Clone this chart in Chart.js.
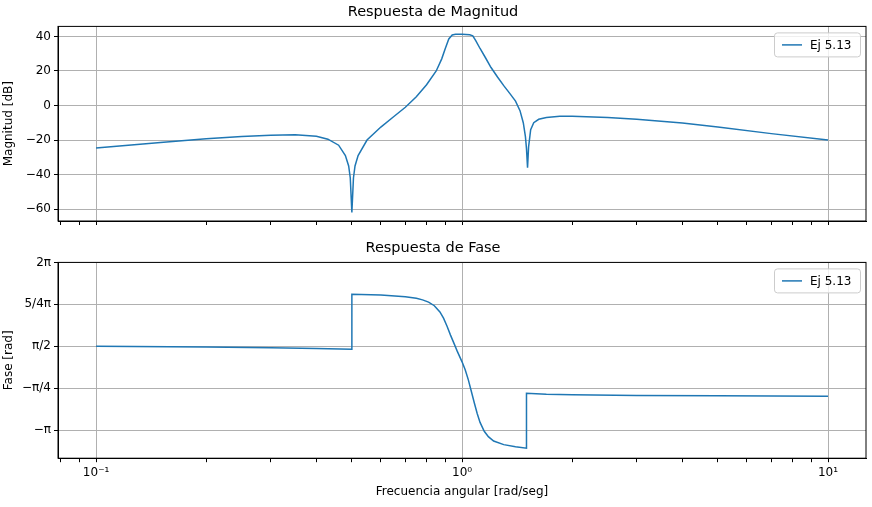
<!DOCTYPE html>
<html><head><meta charset="utf-8">
<script src="https://cdn.jsdelivr.net/npm/chart.js@4"></script>
<style>
body{margin:0;background:#fff;width:872px;height:507px;position:relative;overflow:hidden}
.box{position:absolute;left:0;width:872px}
</style></head><body>
<div class="box" style="top:0;height:232px"><canvas id="mag"></canvas></div>
<div class="box" style="top:232px;height:275px"><canvas id="phase"></canvas></div>
<script>
// --- Data ---
const magFreq = [0.1,0.15,0.2,0.25,0.3,0.35,0.4,0.43,0.46,0.48,0.49,0.495,0.5,0.505,0.51,0.52,0.55,0.6,0.65,0.7,0.75,0.8,0.85,0.88,0.9,0.92,0.94,0.96,1.0,1.05,1.07,1.09,1.12,1.16,1.2,1.25,1.3,1.35,1.4,1.44,1.47,1.49,1.5,1.51,1.52,1.54,1.57,1.62,1.7,1.85,2,2.5,3,4,5,7,10];
const magDb = [-24.6,-21.5,-19.3,-18,-17.2,-17,-17.8,-19.5,-23,-29,-35,-42,-62,-42,-35,-29,-20,-12.5,-6.5,-1,5,12,20,27,33,38.5,40.8,41.2,41.2,41,40.3,37.5,33,27.5,22,16.5,11.5,7,2.5,-3,-10,-18,-25,-36,-24,-14,-10,-8,-7,-6.3,-6.2,-7,-8,-10.2,-12.4,-16.3,-20];
const phaseFreq = [0.1,0.2,0.3,0.4,0.5,0.5,0.6,0.7,0.75,0.78,0.81,0.84,0.87,0.89,0.91,0.93,0.95,0.97,1.0,1.02,1.04,1.06,1.08,1.1,1.12,1.15,1.18,1.22,1.3,1.4,1.5,1.5,1.7,2,3,5,10];
const phaseRad = [1.58,1.53,1.49,1.45,1.40,4.50,4.45,4.36,4.27,4.18,4.05,3.85,3.5,3.15,2.7,2.2,1.75,1.3,0.7,0.25,-0.3,-0.95,-1.6,-2.2,-2.7,-3.2,-3.5,-3.75,-3.95,-4.07,-4.15,-1.07,-1.12,-1.15,-1.19,-1.21,-1.23];
const magTicks = [-60,-40,-20,0,20,40];
const phaseTicks = [-Math.PI, -Math.PI/4, Math.PI/2, 5*Math.PI/4, 2*Math.PI];
const phaseLabels = ['−π','−π/4','π/2','5/4π','2π'];
const xMajor = [0.1,1,10];
const xLabels = ['10⁻¹','10⁰','10¹'];
const seriesName = 'Ej 5.13';

const FONT = 'DejaVu Sans';
const BLUE = '#1f77b4';
Chart.defaults.font.family = FONT;
Chart.defaults.color = '#000';

// minor ticks for log axis
const xAll = [];
for (let d = 0.01; d <= 10; d *= 10) for (let k = 1; k <= 9; k++) {
  const v = +(d * k).toPrecision(3);
  if (v >= 0.078 && v <= 12.7) xAll.push(v);
}

// legend box inside plot, top right
const innerLegend = {
  id: 'innerLegend',
  afterDraw(chart) {
    const {ctx, chartArea: a} = chart;
    ctx.save();
    ctx.font = '12px ' + FONT;
    const w = 86, h = 24, x = a.right - w - 6, y = a.top + 6;
    ctx.fillStyle = 'rgba(255,255,255,0.8)';
    ctx.strokeStyle = '#ccc';
    ctx.lineWidth = 1;
    ctx.beginPath(); ctx.roundRect(x + 0.5, y + 0.5, w, h, 3); ctx.fill(); ctx.stroke();
    ctx.strokeStyle = BLUE; ctx.lineWidth = 1.5;
    ctx.beginPath(); ctx.moveTo(x + 8, y + 12.5); ctx.lineTo(x + 28, y + 12.5); ctx.stroke();
    ctx.fillStyle = '#000'; ctx.textBaseline = 'middle';
    ctx.fillText(seriesName, x + 36, y + 13);
    ctx.restore();
  }
};

function makeChart(id, xs, ys, opts) {
  return new Chart(document.getElementById(id), {
    type: 'line',
    data: { datasets: [{ label: seriesName, data: xs.map((x, i) => ({x, y: ys[i]})), borderColor: BLUE, borderWidth: 1.5, pointRadius: 0, tension: 0 }] },
    options: {
      responsive: true, maintainAspectRatio: false, animation: false,
      layout: { padding: { right: 6, top: 0, left: 0, bottom: opts.bottomPad } },
      plugins: {
        legend: { display: false }, tooltip: { enabled: false },
        title: { display: true, text: opts.title, font: { size: 14.5, weight: 'normal' }, padding: { top: opts.titleTop, bottom: 5 } }
      },
      scales: {
        x: {
          type: 'logarithmic', min: 0.0787, max: 12.7,
          afterBuildTicks: s => { s.ticks = xAll.map(v => ({value: v, major: xMajor.includes(v)})); },
          ticks: { autoSkip: false, maxRotation: 0, font: { size: 12 }, display: opts.showX,
            callback: v => { const i = xMajor.indexOf(v); return i >= 0 ? xLabels[i] : ''; } },
          grid: { color: c => (c.tick && c.tick.major) ? '#b0b0b0' : 'rgba(0,0,0,0)', tickColor: '#000', tickLength: 4 },
          border: { color: '#000' },
          title: { display: opts.showX, text: 'Frecuencia angular [rad/seg]', font: { size: 12 }, padding: { top: 2 } }
        },
        y: {
          min: opts.yMin, max: opts.yMax,
          afterBuildTicks: s => { s.ticks = opts.yTicks.map(v => ({value: v})); },
          afterFit: s => { s.width = 58; },
          ticks: { autoSkip: false, font: { size: 12 }, callback: opts.yLabel },
          grid: { color: '#b0b0b0', tickColor: '#000', tickLength: 4 },
          border: { color: '#000' },
          title: { display: true, text: opts.yTitle, font: { size: 12 }, padding: 2 }
        }
      }
    },
    plugins: [innerLegend, {
      id: 'frame',
      afterDraw(chart) {
        const {ctx, chartArea: a} = chart;
        ctx.save(); ctx.strokeStyle = '#000'; ctx.lineWidth = 1;
        ctx.strokeRect(a.left, a.top, a.right - a.left, a.bottom - a.top);
        ctx.restore();
      }
    }]
  });
}

makeChart('mag', magFreq, magDb, {
  title: 'Respuesta de Magnitud', showX: false, bottomPad: 7, titleTop: 4,
  yMin: -66.9, yMax: 45.8, yTicks: magTicks, yLabel: v => String(v).replace('-', '−'),
  yTitle: 'Magnitud [dB]'
});
makeChart('phase', phaseFreq, phaseRad, {
  title: 'Respuesta de Fase', showX: true, bottomPad: 4, titleTop: 8,
  yMin: -1.5 * Math.PI, yMax: 2 * Math.PI, yTicks: phaseTicks,
  yLabel: v => { let i = phaseTicks.findIndex(t => Math.abs(t - v) < 1e-6); return i >= 0 ? phaseLabels[i] : ''; },
  yTitle: 'Fase [rad]'
});
</script>
</body></html>
